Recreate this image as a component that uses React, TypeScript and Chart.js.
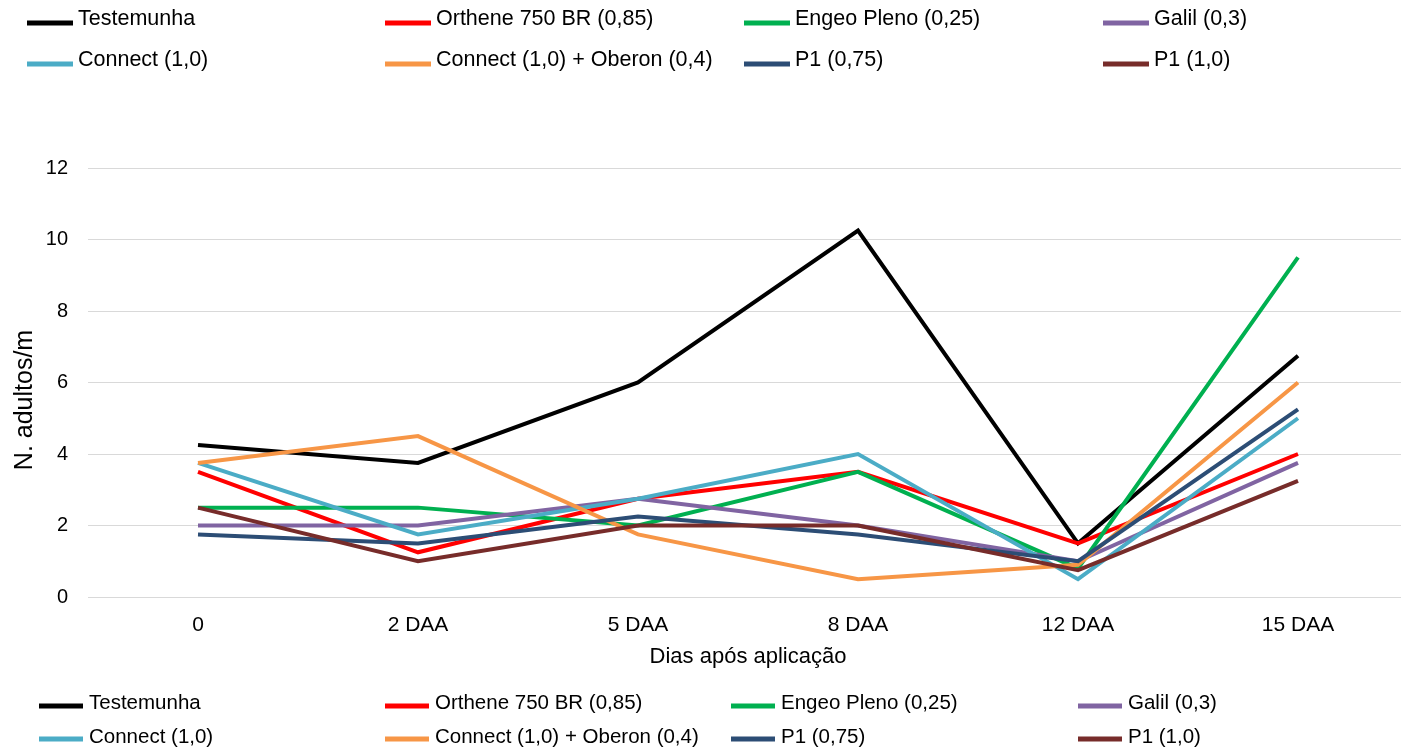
import React, { useEffect, useRef } from "react";
import { Chart, registerables } from "chart.js";

Chart.register(...registerables);

// ---------- data ----------
const categories = ["0", "2 DAA", "5 DAA", "8 DAA", "12 DAA", "15 DAA"];
const yTicks = [0, 2, 4, 6, 8, 10, 12];

const testemunha = [4.25, 3.75, 6.0, 10.25, 1.5, 6.75];
const orthene = [3.5, 1.25, 2.75, 3.5, 1.5, 4.0];
const engeo = [2.5, 2.5, 2.0, 3.5, 0.8, 9.5];
const galil = [2.0, 2.0, 2.75, 2.0, 1.0, 3.75];
const connect = [3.75, 1.75, 2.75, 4.0, 0.5, 5.0];
const connectOberon = [3.75, 4.5, 1.75, 0.5, 0.9, 6.0];
const p1075 = [1.75, 1.5, 2.25, 1.75, 1.0, 5.25];
const p110 = [2.5, 1.0, 2.0, 2.0, 0.75, 3.25];

const seriesNames = [
  "Testemunha",
  "Orthene 750 BR (0,85)",
  "Engeo Pleno (0,25)",
  "Galil (0,3)",
  "Connect (1,0)",
  "Connect (1,0) + Oberon (0,4)",
  "P1 (0,75)",
  "P1 (1,0)",
];
const seriesData = [testemunha, orthene, engeo, galil, connect, connectOberon, p1075, p110];
const seriesColors = [
  "#000000",
  "#FF0000",
  "#00B050",
  "#8064A2",
  "#4BACC6",
  "#F79646",
  "#2C4D75",
  "#772C2A",
];

const xTitle = "Dias após aplicação";
const yTitle = "N. adultos/m";

const FAMILY = "'Liberation Sans', Arial, Helvetica, sans-serif";

// ---------- overlay (legends + y title) ----------
const overlayPlugin = {
  id: "overlayLegends",
  afterDraw(chart: any) {
    const ctx: CanvasRenderingContext2D = chart.ctx;
    ctx.save();

    const drawLegend = (
      colX: number[],
      lineY: number[],
      baseY: number[],
      lineLen: number,
      gap: number,
      fontSize: number,
      thickness: number
    ) => {
      ctx.font = `${fontSize}px ${FAMILY}`;
      ctx.textAlign = "left";
      ctx.textBaseline = "alphabetic";
      seriesNames.forEach((name, i) => {
        const col = i % 4;
        const row = Math.floor(i / 4);
        const x = colX[col];
        ctx.fillStyle = seriesColors[i];
        ctx.fillRect(x, lineY[row] - thickness / 2, lineLen, thickness);
        ctx.fillStyle = "#000";
        ctx.fillText(name, x + lineLen + gap, baseY[row]);
      });
    };

    // top legend
    drawLegend([27, 385, 744, 1103], [23, 64], [25, 66], 46, 5, 21.5, 5);
    // bottom legend
    drawLegend([39, 385, 731, 1078], [706, 739], [709, 743], 44, 6, 20.5, 5);

    // y axis title
    ctx.save();
    ctx.translate(25, 400);
    ctx.rotate(-Math.PI / 2);
    ctx.font = `25px ${FAMILY}`;
    ctx.fillStyle = "#000";
    ctx.textAlign = "center";
    ctx.textBaseline = "middle";
    ctx.fillText(yTitle, 0, 0);
    ctx.restore();

    ctx.restore();
  },
};

export default function App() {
  const ref = useRef<HTMLCanvasElement>(null);

  useEffect(() => {
    document.body.style.margin = "0";
    const canvas = ref.current;
    if (!canvas) return;
    const chart = new Chart(canvas, {
      type: "line",
      data: {
        labels: categories,
        datasets: seriesNames.map((name, i) => ({
          label: name,
          data: seriesData[i],
          borderColor: seriesColors[i],
          backgroundColor: seriesColors[i],
          borderWidth: 4,
          pointRadius: 0,
          pointHoverRadius: 0,
          tension: 0,
          fill: false,
          order: seriesNames.length - i,
        })),
      },
      options: {
        responsive: false,
        animation: false,
        devicePixelRatio: 1,
        layout: { padding: { top: 168, left: 0, right: 12, bottom: 77 } },
        plugins: {
          legend: { display: false },
          tooltip: { enabled: false },
          title: { display: false },
        },
        scales: {
          x: {
            offset: true,
            grid: { display: false, drawTicks: false },
            border: { display: false },
            ticks: {
              font: { family: FAMILY, size: 21 },
              color: "#000",
              padding: 16,
              maxRotation: 0,
              minRotation: 0,
              autoSkip: false,
            },
            title: {
              display: true,
              text: xTitle,
              font: { family: FAMILY, size: 22 },
              color: "#000",
              padding: { top: 0, bottom: 7 },
            },
            afterFit: (s: any) => {
              s.height = 80;
            },
          },
          y: {
            min: 0,
            max: 12,
            afterBuildTicks: (s: any) => {
              s.ticks = yTicks.map((v) => ({ value: v }));
            },
            ticks: {
              font: { family: FAMILY, size: 20 },
              color: "#000",
              padding: 20,
            },
            grid: { color: "#D9D9D9", lineWidth: 1, drawTicks: false },
            border: { display: false },
            afterFit: (s: any) => {
              s.width = 88;
            },
          },
        },
      },
      plugins: [overlayPlugin],
    });
    return () => chart.destroy();
  }, []);

  return (
    <div
      style={{
        position: "fixed",
        left: 0,
        top: 0,
        width: 1401,
        height: 754,
        overflow: "hidden",
        background: "#fff",
      }}
    >
      <canvas
        ref={ref}
        width={1420}
        height={754}
        style={{ display: "block", width: 1420, height: 754 }}
      />
    </div>
  );
}
